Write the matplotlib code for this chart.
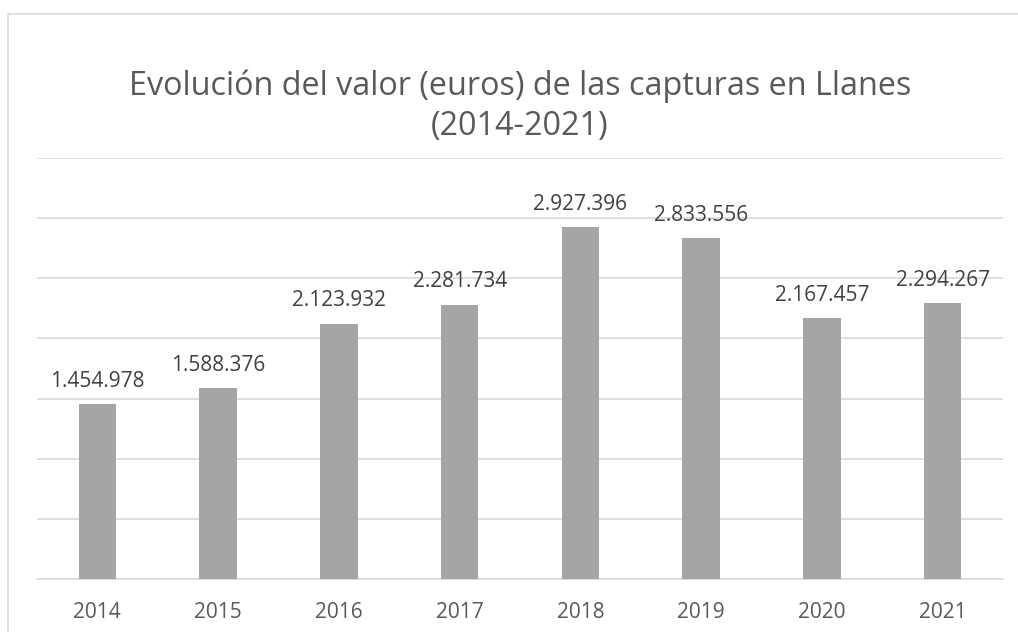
import matplotlib
matplotlib.use("Agg")
import matplotlib.pyplot as plt
from matplotlib.patches import Rectangle

years = ["2014", "2015", "2016", "2017", "2018", "2019", "2020", "2021"]
values = [1454978, 1588376, 2123932, 2281734, 2927396, 2833556, 2167457, 2294267]
title = "Evolución del valor (euros) de las capturas en Llanes\n(2014-2021)"

plt.rcParams['font.family'] = ['Open Sans', 'DejaVu Sans']

fig = plt.figure(figsize=(10.18, 6.32), dpi=100)
fig.patch.set_facecolor("white")
fig.patches.append(Rectangle((8/1018, -0.1), 1.2, 1 - 14/632 + 0.1, transform=fig.transFigure,
                             fill=False, edgecolor="#d9d9d9", linewidth=1.2))

ax = fig.add_axes([37/1018, 1 - 579/632, (1003 - 37)/1018, (579 - 158)/632])
x = list(range(len(years)))
bars = ax.bar(x, values, width=0.31, color="#a5a5a5", zorder=3)
ax.set_xlim(-0.5, len(years) - 0.5)
ax.set_ylim(0, 3500000)
ax.set_yticks(range(0, 3500001, 500000))
ax.yaxis.grid(True, color="#d9d9d9", linewidth=1.2, zorder=0)
ax.tick_params(axis="y", left=False, labelleft=False)
ax.tick_params(axis="x", bottom=False, labelsize=15, labelcolor="#595959", pad=13)
ax.set_xticks(x)
ax.set_xticklabels(years)
for s in ["top", "right", "left"]:
    ax.spines[s].set_visible(False)
ax.spines["bottom"].set_color("#d9d9d9")
ax.spines["bottom"].set_linewidth(1.2)

for xi, v in zip(x, values):
    lab = f"{v:,}".replace(",", ".")
    ax.annotate(lab, (xi, v), xytext=(0, 12.5), textcoords="offset points",
                ha="center", va="baseline", fontsize=15, color="#404040")

fig.text(520/1018, 1 - 106.5/632, title, ha="center", va="center", fontsize=23.3,
         color="#595959", linespacing=1.3)

fig.savefig("out.png", dpi=100)
